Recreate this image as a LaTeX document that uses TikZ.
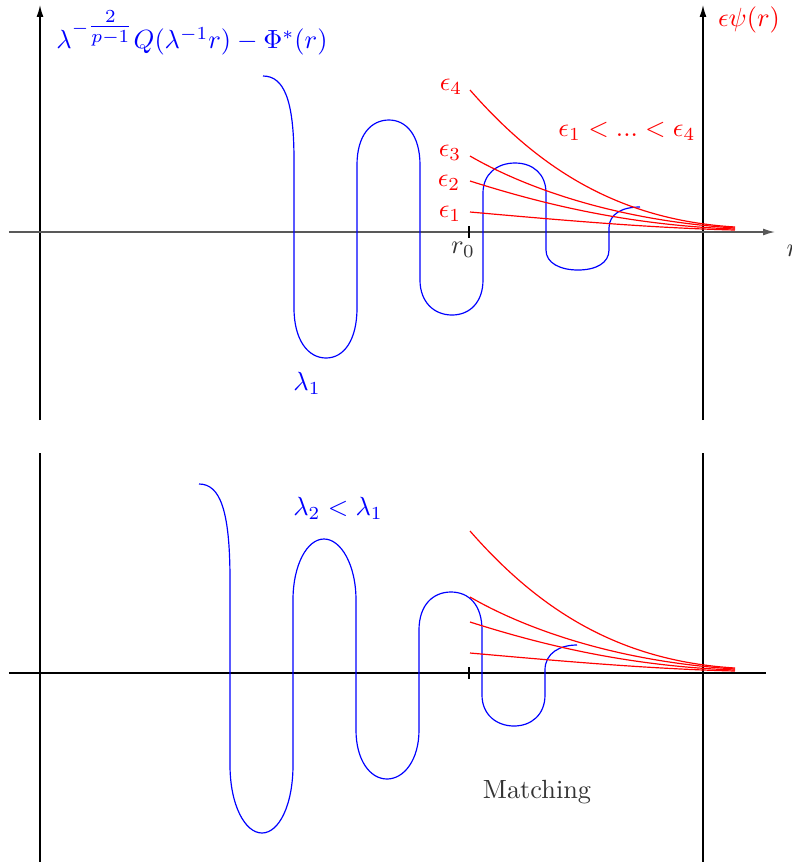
\documentclass[tikz,border=0pt]{standalone}
\usepackage{amsmath}
\usetikzlibrary{arrows.meta}
\definecolor{wavblue}{HTML}{0000FF}
\definecolor{tailred}{HTML}{FF0000}
\definecolor{axisgray}{HTML}{333333}
\tikzset{
  axis/.style={line width=.5pt,black},
  axisarrow/.style={axis,-{Latex[length=4.5pt,width=2.6pt]}},
  tick/.style={line width=.8pt,black},
  wave/.style={wavblue,line width=.45pt},
  tail/.style={tailred,line width=.45pt},
  bluelabel/.style={text=wavblue,inner sep=1pt},
  redlabel/.style={text=tailred,inner sep=1pt},
  graylabel/.style={text=axisgray,inner sep=1pt}
}

\begin{document}
\begin{tikzpicture}[x=0.38pt,y=-0.38pt]
  \useasboundingbox (0,0) rectangle (792,865);
  \clip (0,0) rectangle (792,865);

  % upper panel: axes
  \draw[axisarrow] (40,420) -- (40,5);
  \draw[axisarrow] (703,420) -- (703,5);
  \draw[axisarrow,black!65] (9,232) -- (775,232);
  \draw[tick] (469,226) -- (469,238);
  \node[graylabel] (rzero) at (463,250) {$r_0$};
  \node[graylabel] (raxis) at (793,251) {$r$};

  \node[bluelabel] (profile) at (192,33) {$\lambda^{-{\textstyle\frac{2}{p-1}}}Q(\lambda^{-1}r)-\Phi^*(r)$};
  \node[redlabel] (psi) at (749,20) {$\epsilon\psi(r)$};
  \node[redlabel] (epsfour) at (451,87) {$\epsilon_4$};
  \node[redlabel] (epsthree) at (450,153) {$\epsilon_3$};
  \node[redlabel] (epstwo) at (449,183) {$\epsilon_2$};
  \node[redlabel] (epsone) at (450,214) {$\epsilon_1$};
  \node[redlabel] (order) at (627,131) {$\epsilon_1 < ... < \epsilon_4$};
  \node[bluelabel] (lamone) at (307,383) {$\lambda_1$};

  % upper panel: rescaled solution
  \draw[wave] (263,76) .. controls (284,76) and (294,100) .. (294,160)
    -- (294,308) .. controls (294,340) and (308,358) .. (326,358)
    .. controls (344,358) and (357,340) .. (357,308)
    -- (357,165) .. controls (357,135) and (371,120) .. (389,120)
    .. controls (406,120) and (420,135) .. (420,165)
    -- (420,280) .. controls (420,302) and (434,315) .. (452,315)
    .. controls (470,315) and (483,302) .. (483,280)
    -- (483,193) .. controls (483,174) and (497,163) .. (515,163)
    .. controls (533,163) and (546,174) .. (546,193)
    -- (546,250) .. controls (546,263) and (560,270) .. (578,270)
    .. controls (596,270) and (609,263) .. (609,250)
    -- (609,228) .. controls (609,214) and (622,207) .. (640,207);

  % lower panel: axes
  \draw[axis] (40,453) -- (40,862);
  \draw[axis] (703,453) -- (703,862);
  \draw[axis] (9,673) -- (766,673);
  \draw[tick] (469,667) -- (469,679);

  \node[bluelabel] (lamtwo) at (338,508) {$\lambda_2 < \lambda_1$};
  \node[graylabel] (match) at (537,792) {Matching};

  % lower panel: rescaled solution
  \draw[wave] (199,484) .. controls (220,484) and (230,510) .. (230,580)
    -- (230,765) .. controls (230,805) and (245,833) .. (262,833)
    .. controls (279,833) and (293,805) .. (293,765)
    -- (293,600) .. controls (293,565) and (307,539) .. (324,539)
    .. controls (341,539) and (356,565) .. (356,600)
    -- (356,730) .. controls (356,760) and (370,779) .. (387,779)
    .. controls (404,779) and (419,760) .. (419,730)
    -- (419,630) .. controls (419,605) and (433,592) .. (451,592)
    .. controls (469,592) and (482,605) .. (482,630)
    -- (482,695) .. controls (482,715) and (497,726) .. (514,726)
    .. controls (531,726) and (545,715) .. (545,695)
    -- (545,670) .. controls (545,653) and (560,645) .. (577,645);

  % outer solutions, same in both panels
  \foreach \dy in {0,441} {
    \begin{scope}[shift={(0,\dy)}]
      \draw[tail] (470,90) .. controls (540,170) and (620,220) .. (735,227);
      \draw[tail] (470,156) .. controls (520,185) and (610,220) .. (735,228);
      \draw[tail] (470,181) .. controls (530,200) and (620,225) .. (735,229);
      \draw[tail] (470,212) .. controls (560,220) and (650,228) .. (735,230);
    \end{scope}
  }
\end{tikzpicture}
\end{document}
